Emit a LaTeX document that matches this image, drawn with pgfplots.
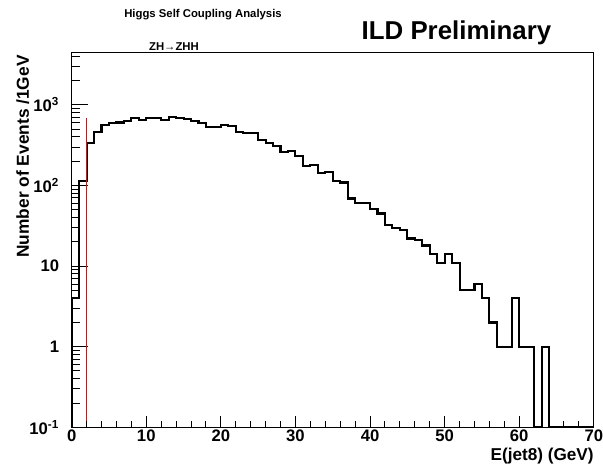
\documentclass[border=0pt]{standalone}
\usepackage{fontspec}
\setmainfont{Liberation Sans}
\usepackage{pgfplots}
\pgfplotsset{compat=1.18}
\pgfplotstableread{
x y
0 0.1
0 4
1 115
2 333
3 465
4 563
5 600
6 605
7 637
8 681
9 650
10 695
11 690
12 650
13 708
14 690
15 660
16 631
17 591
18 537
19 537
20 563
21 547
22 465
23 444
24 444
25 367
26 340
27 309
28 258
29 266
30 232
31 175
32 180
33 142
34 146
35 114
36 109
37 69
38 60
39 60
40 51
41 45
42 32
43 30
44 28
45 22
46 21
47 18
48 14
49 11
50 14
51 11
52 5
53 5
54 6
55 4
56 2
57 1
58 1
59 4
60 1
61 1
62 0.1
63 1
64 0.1
65 0.1
66 0.1
67 0.1
68 0.1
69 0.1
70 0.1
}\histdata
\begin{document}
\begin{tikzpicture}
\begin{axis}[
  scale only axis, width=313.3pt, height=225.2pt,
  ymode=log, xmin=0, xmax=70, ymin=0.1, ymax=4530,
  axis line style={line width=0.6pt},
  xtick=\empty,
  ytick={0.1,1,10,100,1000},
  yticklabels={10\textsuperscript{-1},1,10,10\textsuperscript{2},10\textsuperscript{3}},
  minor ytick={0.2,0.3,0.4,0.5,0.6,0.7,0.8,0.9,2,3,4,5,6,7,8,9,20,30,40,50,60,70,80,90,200,300,400,500,600,700,800,900,2000,3000,4000},
  ytick pos=left, tick align=inside,
  major tick length=9.6pt, minor tick length=4.8pt,
  tick style={black, line width=0.6pt},
  yticklabel style={font=\fontsize{10}{12}\selectfont\bfseries, xshift=-4pt},
]
\addplot[const plot, black, line width=1.25pt] table[x=x,y=y] {\histdata};
\addplot[red, line width=0.7pt] coordinates {(2,0.1) (2,680)};
\end{axis}
\begin{axis}[
  scale only axis, width=313.3pt, height=225.2pt,
  ymode=log, xmin=0, xmax=70, ymin=0.1, ymax=4530,
  hide y axis, axis x line*=bottom,
  axis line style={line width=0.6pt, -},
  xtick={0,10,20,30,40,50,60,70},
  xticklabels={0,10,20,30,40,50,60,70},
  minor xtick={2,4,6,8,12,14,16,18,22,24,26,28,32,34,36,38,42,44,46,48,52,54,56,58,62,64,66,68},
  tick align=inside,
  major tick length=6.6pt, minor tick length=3.6pt,
  tick style={black, line width=0.6pt},
  xticklabel style={font=\fontsize{10}{11}\selectfont\bfseries, inner sep=1.5pt},
]
\addplot[draw=none] coordinates {(0,1)};
\end{axis}
\node[anchor=base, font=\fontsize{15.5}{18}\selectfont\bfseries] at (230.9pt,233.0pt) {ILD Preliminary};
\node[anchor=base, font=\fontsize{6.8}{8}\selectfont\bfseries] at (78.8pt,246.2pt) {Higgs Self Coupling Analysis};
\node[anchor=base, font=\fontsize{6.8}{8}\selectfont\bfseries] at (61.4pt,226.4pt) {ZH→ZHH};
\node[anchor=base east, inner sep=0pt, font=\fontsize{10.3}{12}\selectfont\bfseries] at (313.4pt,-19.6pt) {E(jet8) (GeV)};
\node[anchor=base east, rotate=90, inner sep=0pt, font=\fontsize{10.4}{12}\selectfont\bfseries] at (-25.6pt,223.4pt) {Number of Events /1GeV};
\pgfresetboundingbox
\path[use as bounding box] (-43pt,-23.2pt) rectangle (318.8pt,256.4pt);
\end{tikzpicture}
\end{document}
